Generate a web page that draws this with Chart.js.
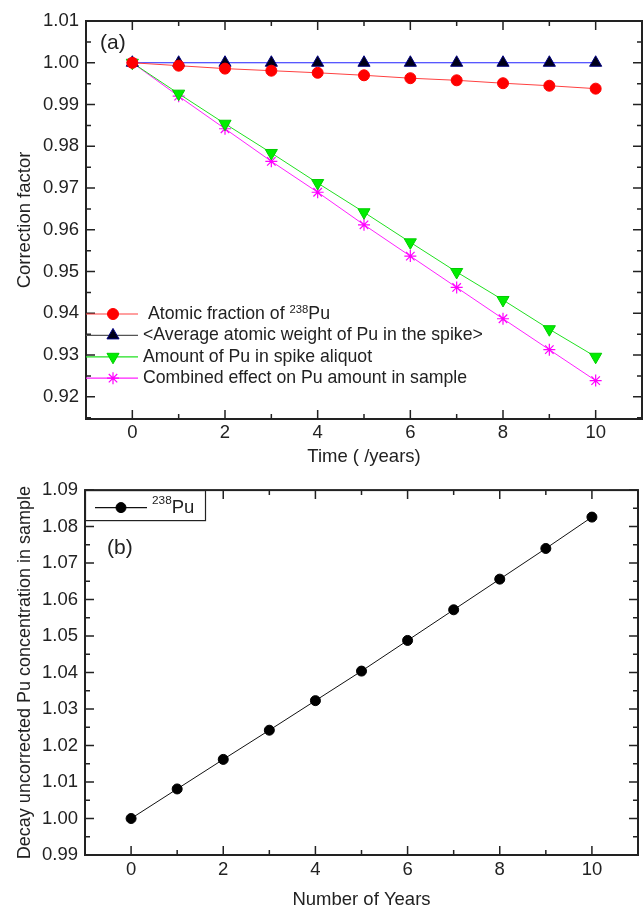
<!DOCTYPE html>
<html>
<head>
<meta charset="utf-8">
<script src="https://cdn.jsdelivr.net/npm/chart.js@4.4.1/dist/chart.umd.min.js"></script>
<style>
  html, body { margin: 0; padding: 0; background: #fff; overflow: hidden; }
  .panel { position: absolute; left: 0; }
</style>
</head>
<body>
<div class="panel" style="top:0"><canvas id="chart-a" width="650" height="472"></canvas></div>
<div class="panel" style="top:472px"><canvas id="chart-b" width="644" height="437"></canvas></div>
<script>
// values
const years = [0, 1, 2, 3, 4, 5, 6, 7, 8, 9, 10];
const atomicFraction238 = [1.0000, 0.9993, 0.9986, 0.9981, 0.9976, 0.9970, 0.9963, 0.9958, 0.9951, 0.9945, 0.9938];
const avgAtomicWeight = [1.0000, 1.0000, 1.0000, 1.0000, 1.0000, 1.0000, 1.0000, 1.0000, 1.0000, 1.0000, 1.0000];
const spikeAliquot = [1.0000, 0.9926, 0.9854, 0.9784, 0.9712, 0.9642, 0.9570, 0.9499, 0.9432, 0.9362, 0.9296];
const combinedEffect = [1.0000, 0.9920, 0.9842, 0.9764, 0.9690, 0.9612, 0.9537, 0.9462, 0.9387, 0.9313, 0.9239];
const uncorrectedConc = [1.0000, 1.0081, 1.0162, 1.0242, 1.0323, 1.0404, 1.0488, 1.0572, 1.0656, 1.0740, 1.0826];

const xTicks = [0, 2, 4, 6, 8, 10];
const yTicksA = [0.92, 0.93, 0.94, 0.95, 0.96, 0.97, 0.98, 0.99, 1.00, 1.01];
const yTicksB = [0.99, 1.00, 1.01, 1.02, 1.03, 1.04, 1.05, 1.06, 1.07, 1.08, 1.09];

const FONT = "'Liberation Sans', Arial, sans-serif";
const INK = '#222';
const SUP = '⁰¹²³⁴⁵⁶⁷⁸⁹';

const pts = arr => years.map((t, i) => ({ x: t, y: arr[i] }));

// text with superscript digits drawn smaller and raised
function drawRich(ctx, text, x, y, size, rise) {
    const runs = [];
    for (const ch of text) {
        const k = SUP.indexOf(ch);
        const sup = k >= 0;
        const c = sup ? String(k) : ch;
        if (runs.length && runs[runs.length - 1].sup === sup) runs[runs.length - 1].t += c;
        else runs.push({ sup, t: c });
    }
    let cur = x;
    runs.forEach(r => {
        const s = r.sup ? size * 0.64 : size;
        ctx.font = s + 'px ' + FONT;
        ctx.fillText(r.t, cur, r.sup ? y - size * rise : y);
        cur += ctx.measureText(r.t).width;
    });
}

function drawMarker(ctx, ds, x, y) {
    ctx.fillStyle = ds.pointBackgroundColor;
    ctx.strokeStyle = ds.pointBorderColor;
    ctx.lineWidth = ds.pointBorderWidth;
    Chart.helpers.drawPoint(ctx, {
        pointStyle: ds.pointStyle,
        rotation: ds.pointRotation || 0,
        radius: ds.pointRadius,
        borderWidth: ds.pointBorderWidth
    }, x, y);
}

function minorValues(majors, min, max) {
    const half = (majors[1] - majors[0]) / 2;
    const out = majors.map(v => v - half);
    out.push(majors[majors.length - 1] + half);
    return out.filter(v => v >= min - 1e-9 && v <= max + 1e-9);
}

// Origin-style box with inward ticks, panel letter and legend
const originFrame = {
    id: 'originFrame',
    afterDatasetsDraw(chart, args, opts) {
        const { ctx, chartArea: a, scales: { x, y } } = chart;
        ctx.save();
        ctx.strokeStyle = INK;
        ctx.lineWidth = 1.5;
        ctx.beginPath();
        const xt = (v, len) => {
            const p = x.getPixelForValue(v);
            ctx.moveTo(p, a.bottom); ctx.lineTo(p, a.bottom - len);
            ctx.moveTo(p, a.top); ctx.lineTo(p, a.top + len);
        };
        const yt = (v, len) => {
            const p = y.getPixelForValue(v);
            ctx.moveTo(a.left, p); ctx.lineTo(a.left + len, p);
            ctx.moveTo(a.right, p); ctx.lineTo(a.right - len, p);
        };
        xTicks.forEach(v => xt(v, 9));
        minorValues(xTicks, x.min, x.max).forEach(v => xt(v, 5));
        opts.yTicks.forEach(v => yt(v, 9));
        minorValues(opts.yTicks, y.min, y.max).forEach(v => yt(v, 5));
        ctx.stroke();
        ctx.lineWidth = 2;
        ctx.strokeRect(a.left, a.top, a.right - a.left, a.bottom - a.top);

        // panel letter
        ctx.fillStyle = INK;
        ctx.textBaseline = 'middle';
        ctx.textAlign = 'left';
        ctx.font = '21px ' + FONT;
        ctx.fillText(opts.letter, a.left + opts.letterX, a.top + opts.letterY);

        // legend
        const lg = opts.legend;
        if (lg.box) {
            ctx.fillStyle = '#fff';
            ctx.fillRect(a.left, a.top, lg.box.w, lg.box.h);
            ctx.lineWidth = 1.2;
            ctx.strokeStyle = INK;
            ctx.strokeRect(a.left + 0.5, a.top + 0.5, lg.box.w, lg.box.h);
        }
        chart.data.datasets.forEach((ds, i) => {
            const ly = a.top + lg.firstY + i * (lg.rowH || 0);
            ctx.strokeStyle = ds.legendLineColor || ds.borderColor;
            ctx.lineWidth = 1.2;
            ctx.beginPath();
            ctx.moveTo(a.left + lg.lineFrom, ly);
            ctx.lineTo(a.left + lg.lineTo, ly);
            ctx.stroke();
            drawMarker(ctx, ds, a.left + lg.markX, ly);
            ctx.fillStyle = INK;
            ctx.textBaseline = 'middle';
            drawRich(ctx, ds.label, a.left + lg.textX, ly, lg.size, lg.rise);
        });
        ctx.restore();
    }
};

function panelOptions(cfg) {
    return {
        responsive: false,
        animation: false,
        layout: { padding: { left: 0, right: cfg.padRight, top: cfg.padTop, bottom: 0 } },
        plugins: {
            legend: { display: false },
            tooltip: { enabled: false },
            originFrame: cfg.frame
        },
        scales: {
            x: {
                type: 'linear',
                min: -1,
                max: 11,
                afterBuildTicks: s => { s.ticks = xTicks.map(v => ({ value: v })); },
                afterFit: s => { s.height = cfg.xHeight; },
                grid: { display: false, drawTicks: false },
                border: { display: false },
                ticks: {
                    padding: cfg.xPad,
                    color: INK,
                    maxRotation: 0,
                    font: { family: FONT, size: 18.5 },
                    callback: v => String(v)
                },
                title: {
                    display: true,
                    text: cfg.xTitle,
                    color: INK,
                    font: { family: FONT, size: 18.5, lineHeight: 1 },
                    padding: { top: 0, bottom: cfg.xTitlePad }
                }
            },
            y: {
                min: cfg.yMin,
                max: cfg.yMax,
                afterBuildTicks: s => { s.ticks = cfg.yTicks.map(v => ({ value: v })); },
                afterFit: s => { s.width = cfg.yWidth; },
                grid: { display: false, drawTicks: false },
                border: { display: false },
                ticks: {
                    padding: 7,
                    color: INK,
                    font: { family: FONT, size: 18.5 },
                    callback: v => Number(v).toFixed(2)
                },
                title: {
                    display: true,
                    text: cfg.yTitle,
                    color: INK,
                    font: { family: FONT, size: cfg.yTitleSize, lineHeight: 1 },
                    padding: { top: 16, bottom: 0 }
                }
            }
        }
    };
}

new Chart(document.getElementById('chart-a'), {
    type: 'line',
    data: {
        datasets: [
            {
                label: ' Atomic fraction of ²³⁸Pu',
                data: pts(atomicFraction238),
                borderColor: '#ff4040',
                borderWidth: 1,
                pointStyle: 'circle',
                pointRadius: 5.5,
                pointBackgroundColor: '#ff0000',
                pointBorderColor: '#ff0000',
                pointBorderWidth: 1
            },
            {
                label: '<Average atomic weight of Pu in the spike>',
                data: pts(avgAtomicWeight),
                borderColor: '#2020ff',
                legendLineColor: '#555',
                borderWidth: 1,
                pointStyle: 'triangle',
                pointRadius: 7,
                pointBackgroundColor: '#000018',
                pointBorderColor: '#000080',
                pointBorderWidth: 1
            },
            {
                label: 'Amount of Pu in spike aliquot',
                data: pts(spikeAliquot),
                borderColor: '#20e020',
                borderWidth: 1,
                pointStyle: 'triangle',
                pointRotation: 180,
                pointRadius: 7,
                pointBackgroundColor: '#00ee00',
                pointBorderColor: '#00cc00',
                pointBorderWidth: 1
            },
            {
                label: 'Combined effect on Pu amount in sample',
                data: pts(combinedEffect),
                borderColor: '#ff20ff',
                borderWidth: 1,
                pointStyle: 'star',
                pointRadius: 6,
                pointBackgroundColor: '#ff00ff',
                pointBorderColor: '#ff00ff',
                pointBorderWidth: 1.2
            }
        ]
    },
    options: panelOptions({
        padRight: 3, padTop: 21, xHeight: 53, yWidth: 86, xPad: 3, xTitlePad: 6,
        yMin: 0.9147, yMax: 1.01, yTicks: yTicksA,
        xTitle: 'Time ( /years)', yTitle: 'Correction factor', yTitleSize: 18.5,
        frame: {
            yTicks: yTicksA, letter: '(a)', letterX: 14, letterY: 22,
            legend: { lineFrom: 0, lineTo: 52, markX: 27, textX: 57, firstY: 293, rowH: 21.4, size: 17.7, rise: 0.22 }
        }
    }),
    plugins: [originFrame]
});

new Chart(document.getElementById('chart-b'), {
    type: 'line',
    data: {
        datasets: [
            {
                label: '²³⁸Pu',
                data: pts(uncorrectedConc),
                borderColor: '#111',
                borderWidth: 1,
                pointStyle: 'circle',
                pointRadius: 5,
                pointBackgroundColor: '#000',
                pointBorderColor: '#000',
                pointBorderWidth: 1
            }
        ]
    },
    options: panelOptions({
        padRight: 3, padTop: 17, xHeight: 54, yWidth: 85, xPad: 4, xTitlePad: 0,
        yMin: 0.99, yMax: 1.09, yTicks: yTicksB,
        xTitle: 'Number of Years', yTitle: 'Decay uncorrected Pu concentration in sample', yTitleSize: 18,
        frame: {
            yTicks: yTicksB, letter: '(b)', letterX: 22, letterY: 58,
            legend: { lineFrom: 10, lineTo: 62, markX: 36, textX: 67, firstY: 17.5, size: 18.5, rise: 0.38, box: { w: 120, h: 30 } }
        }
    }),
    plugins: [originFrame]
});
</script>
</body>
</html>
